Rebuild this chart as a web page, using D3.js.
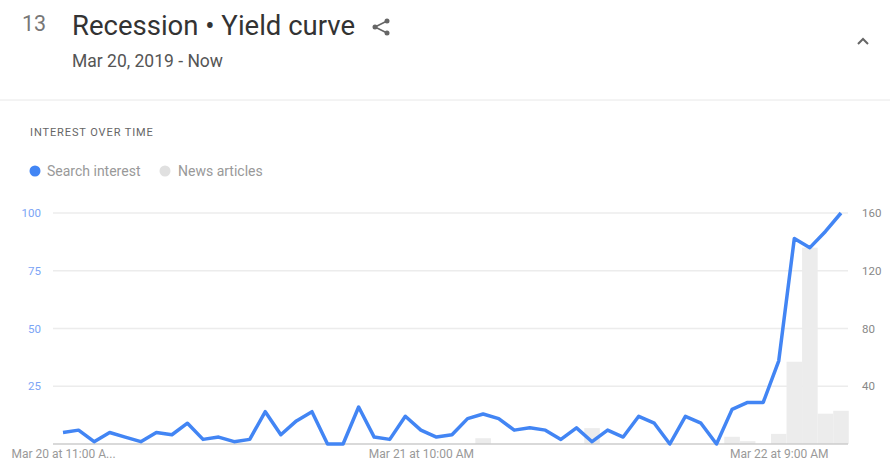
<!DOCTYPE html>
<html>
<head>
<meta charset="utf-8">
<script src="https://cdn.jsdelivr.net/npm/d3@7"></script>
<style>
  body { margin: 0; background: #fff; font-family: Roboto, "Noto Sans", sans-serif; }
</style>
</head>
<body>
<div id="chart"></div>
<script>
// hourly search interest (0-100) starting Mar 20, 2019 11:00 AM
var searchInterest = [5, 6, 1, 5, 3, 1, 5, 4, 9, 2,
  3, 1, 2, 14, 4, 10, 14, 0, 0, 16,
  3, 2, 12, 6, 3, 4, 11, 13, 11, 6,
  7, 6, 2, 7, 1, 6, 3, 12, 9, 0,
  12, 9, 0, 15, 18, 18, 36, 89, 85, 92, 100];

// news articles per hour (right axis)
var newsArticles = [0, 0, 0, 0, 0, 0, 0, 0, 0, 0,
  0, 0, 0, 0, 0, 0, 0, 0, 0, 0,
  0, 0, 0, 0, 0, 0, 0, 4, 0, 0,
  0, 0, 0, 0, 11, 0, 0, 0, 0, 0,
  0, 0, 0, 5, 2, 0, 7, 57, 136, 21, 23];

var leftTicks = [25, 50, 75, 100];
var rightTicks = [40, 80, 120, 160];
var xTickLabels = ["Mar 20 at 11:00 A...", "Mar 21 at 10:00 AM", "Mar 22 at 9:00 AM"];
var xTickHours = [0, 23, 46];

var svgWidth = 890;
var svgHeight = 462;

var svg = d3.select("#chart")
  .append("svg")
  .attr("width", svgWidth)
  .attr("height", svgHeight);

// header
svg.append("text").attr("x", 22).attr("y", 31)
  .attr("font-size", "21.5px").attr("fill", "#777").text("13");
svg.append("text").attr("x", 72).attr("y", 35)
  .attr("font-size", "27.5px").attr("fill", "#333").text("Recession \u2022 Yield curve");
svg.append("text").attr("x", 72).attr("y", 67)
  .attr("font-size", "17.5px").attr("fill", "#555").text("Mar 20, 2019 - Now");

// share icon
var share = svg.append("g").attr("transform", "translate(381,27)");
share.append("path").attr("d", "M6,-6 L-6,0 L6,6")
  .attr("fill", "none").attr("stroke", "#666").attr("stroke-width", 1.6);
[[6, -6], [-6, 0], [6, 6]].forEach(function(p) {
  share.append("circle").attr("cx", p[0]).attr("cy", p[1]).attr("r", 2.5).attr("fill", "#666");
});

// collapse caret
svg.append("path").attr("d", "M858,44 L863,39 L868,44")
  .attr("fill", "none").attr("stroke", "#666").attr("stroke-width", 2);

svg.append("line").attr("x1", 0).attr("x2", svgWidth).attr("y1", 100).attr("y2", 100)
  .attr("stroke", "#e8e8e8");

svg.append("text").attr("x", 30).attr("y", 136)
  .attr("font-size", "11px").attr("letter-spacing", "0.9px")
  .attr("fill", "#666").text("INTEREST OVER TIME");

// legend
svg.append("circle").attr("cx", 35).attr("cy", 171).attr("r", 5.5).attr("fill", "#4285f4");
svg.append("text").attr("x", 47).attr("y", 176)
  .attr("font-size", "14px").attr("fill", "#999").text("Search interest");
svg.append("circle").attr("cx", 165).attr("cy", 171).attr("r", 5.5).attr("fill", "#e0e0e0");
svg.append("text").attr("x", 178).attr("y", 176)
  .attr("font-size", "14px").attr("fill", "#999").text("News articles");

// scales
var start = new Date(2019, 2, 20, 11);
var dates = searchInterest.map(function(d, i) { return d3.timeHour.offset(start, i); });

var xScale = d3.scaleTime()
  .domain([dates[0], dates[dates.length - 1]])
  .range([63, 841]);
var yLeft = d3.scaleLinear().domain([0, 100]).range([444, 213]);
var yRight = d3.scaleLinear().domain([0, 160]).range([444, 213]);
var step = xScale(dates[1]) - xScale(dates[0]);

// gridlines
svg.append("g")
  .selectAll("line")
  .data(leftTicks)
  .enter()
  .append("line")
  .attr("x1", 53).attr("x2", 848)
  .attr("y1", d => yLeft(d)).attr("y2", d => yLeft(d))
  .attr("stroke", "#ececec").attr("stroke-width", 1.5);

// news bars
svg.append("g")
  .selectAll("rect")
  .data(newsArticles)
  .enter()
  .append("rect")
  .attr("x", (d, i) => xScale(dates[i]) - step / 2)
  .attr("width", step)
  .attr("y", d => yRight(d))
  .attr("height", d => yRight(0) - yRight(d))
  .attr("fill", "#ececec");

// baseline
svg.append("line").attr("x1", 53).attr("x2", 848)
  .attr("y1", yLeft(0)).attr("y2", yLeft(0))
  .attr("stroke", "#ccc").attr("stroke-width", 1.5);

// left axis
var leftAxis = d3.axisLeft(yLeft).tickValues(leftTicks).tickSize(0).tickPadding(0);
var gl = svg.append("g").attr("transform", "translate(41,0)").call(leftAxis);
gl.select(".domain").remove();
gl.selectAll("text").attr("fill", "#7ba4f5").attr("font-size", "11.5px")
  .attr("font-family", "Roboto, sans-serif");

// right axis
var rightAxis = d3.axisRight(yRight).tickValues(rightTicks).tickSize(0).tickPadding(0);
var gr = svg.append("g").attr("transform", "translate(862,0)").call(rightAxis);
gr.select(".domain").remove();
gr.selectAll("text").attr("fill", "#888").attr("font-size", "11.5px")
  .attr("font-family", "Roboto, sans-serif");

// bottom axis
var bottomAxis = d3.axisBottom(xScale)
  .tickValues(xTickHours.map(h => dates[h]))
  .tickFormat((d, i) => xTickLabels[i])
  .tickSize(0).tickPadding(0);
var gb = svg.append("g").attr("transform", "translate(0,449)").call(bottomAxis);
gb.select(".domain").remove();
gb.selectAll("text").attr("fill", "#999").attr("font-size", "12px")
  .attr("font-family", "Roboto, sans-serif");

// search interest line
var line = d3.line()
  .x((d, i) => xScale(dates[i]))
  .y(d => yLeft(d));

svg.append("path")
  .datum(searchInterest)
  .attr("d", line)
  .attr("fill", "none")
  .attr("stroke", "#4285f4")
  .attr("stroke-width", 3.5)
  .attr("stroke-linejoin", "round");
</script>
</body>
</html>
